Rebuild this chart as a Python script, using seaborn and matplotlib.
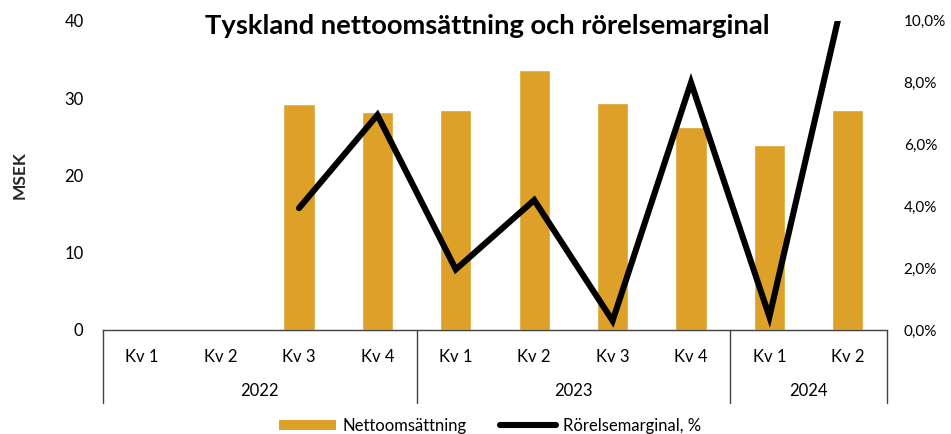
import matplotlib
matplotlib.use("Agg")
import matplotlib.pyplot as plt
import matplotlib.ticker as mticker
import matplotlib.transforms as mtransforms
from matplotlib.lines import Line2D
from matplotlib.patches import Patch
import numpy as np
import pandas as pd
import seaborn as sns

# ---- data ----
quarters = ["Kv 1", "Kv 2", "Kv 3", "Kv 4", "Kv 1", "Kv 2", "Kv 3", "Kv 4", "Kv 1", "Kv 2"]
years = ["2022", "2022", "2022", "2022", "2023", "2023", "2023", "2023", "2024", "2024"]
net_sales = [np.nan, np.nan, 29.2, 28.2, 28.5, 33.6, 29.3, 26.2, 23.9, 28.5]
op_margin = [np.nan, np.nan, 3.94, 6.95, 1.96, 4.2, 0.3, 8.0, 0.43, 11.4]
year_labels = ["2022", "2023", "2024"]

title = "Tyskland nettoomsättning och rörelsemarginal"
bar_label = "Nettoomsättning"
line_label = "Rörelsemarginal, %"
ylabel = "MSEK"

BAR_COLOR = "#DDA12A"
FONT = ["Lato", "DejaVu Sans"]

sns.set_theme(style="white")
plt.rcParams["font.family"] = FONT
plt.rcParams["text.color"] = "#000000"

df = pd.DataFrame({
    "idx": np.arange(len(quarters)),
    "quarter": quarters,
    "year": years,
    "sales": net_sales,
    "margin": [m / 100 for m in op_margin],
})

fig = plt.figure(figsize=(9.51, 4.34), dpi=100)
W, H = 951, 434
left, right, top, bottom = 103, 887, 20.7, 330
ax = fig.add_axes([left / W, (H - bottom) / H, (right - left) / W, (bottom - top) / H])

sns.barplot(data=df, x="idx", y="sales", color=BAR_COLOR, width=0.4,
            saturation=1, ax=ax, order=list(df["idx"]))
ax.set_ylim(0, 40)
ax.set_yticks([0, 10, 20, 30, 40])
ax.set_xlim(-0.5, len(quarters) - 0.5)
ax.set_xticks(df["idx"])
ax.set_xticklabels(quarters)
ax.set_xlabel("")
ax.set_ylabel(ylabel, fontsize=12.5, fontweight="bold")
ax.yaxis.set_label_coords((28 - left) / (right - left), 0.5)
ax.tick_params(axis="y", length=0, labelsize=12, pad=14, colors="#000000")
ax.tick_params(axis="x", length=0, labelsize=12, pad=14, colors="#000000")
for s in ["top", "right", "left"]:
    ax.spines[s].set_visible(False)
ax.spines["bottom"].set_color("#404040")
ax.spines["bottom"].set_linewidth(1.0)

ax2 = ax.twinx()
sns.lineplot(data=df, x="idx", y="margin", color="black", linewidth=4.4,
             ax=ax2, legend=False)
for ln in ax2.lines:
    ln.set_solid_capstyle("round")
    ln.set_solid_joinstyle("miter")
ax2.set_ylim(0, 0.10)
ax2.set_yticks(np.linspace(0, 0.10, 6))
ax2.yaxis.set_major_formatter(mticker.FuncFormatter(
    lambda v, p: f"{v * 100:.1f}%".replace(".", ",")))
ax2.set_ylabel("")
ax2.set_xlim(-0.5, len(quarters) - 0.5)
ax2.tick_params(axis="y", length=0, labelsize=11, pad=12, colors="#000000")
for s in ax2.spines.values():
    s.set_visible(False)

# group separators and year labels below the axis
trans = mtransforms.blended_transform_factory(ax.transData, fig.transFigure)
sep_top = (H - bottom) / H
sep_bot = (H - 403) / H
bounds = [-0.5]
for i in range(1, len(years)):
    if years[i] != years[i - 1]:
        bounds.append(i - 0.5)
bounds.append(len(years) - 0.5)
for b in bounds:
    ax.add_line(Line2D([b, b], [sep_top, sep_bot], transform=trans,
                       color="#404040", linewidth=1.0, clip_on=False))
for k, yl in enumerate(year_labels):
    xs = [i for i, y in enumerate(years) if y == yl]
    xc = (min(xs) + max(xs)) / 2
    ax.text(xc, (H - 391) / H, yl, transform=trans, ha="center", va="center",
            fontsize=12, color="#000000")

fig.text(487 / W, (H - 26) / H, title, ha="center", va="center",
         fontsize=19.7, fontweight="bold", color="#000000")

handles = [Patch(facecolor=BAR_COLOR, edgecolor="none", label=bar_label),
           Line2D([0], [0], color="black", linewidth=4.4, solid_capstyle="round",
                  label=line_label)]
fig.legend(handles=handles, loc="center", bbox_to_anchor=(490 / W, (H - 426) / H),
           ncol=2, frameon=False, fontsize=12, handlelength=3.4,
           handleheight=0.6, handletextpad=0.4, columnspacing=2.0)

fig.savefig("out.png", dpi=100)
